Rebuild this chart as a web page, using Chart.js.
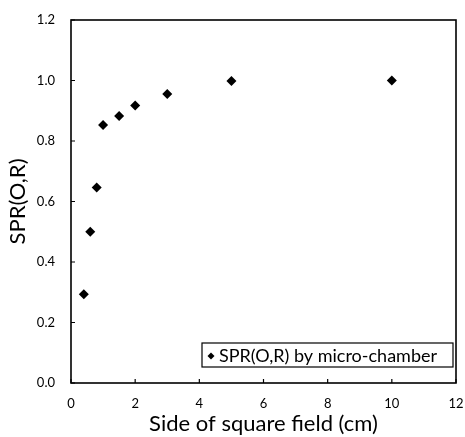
<!DOCTYPE html>
<html>
<head>
<meta charset="utf-8">
<script src="https://cdn.jsdelivr.net/npm/chart.js@4.4.0/dist/chart.umd.min.js"></script>
<style>
  html, body { margin: 0; padding: 0; background: #fff; }
  #wrap { width: 465px; height: 437px; }
</style>
</head>
<body>
<div id="wrap"><canvas id="myChart" width="465" height="437"></canvas></div>
<script>
// field side (cm) and SPR(0,R)
var fieldSide = [0.4, 0.6, 0.8, 1.0, 1.5, 2.0, 3.0, 5.0, 10.0];
var sprValues = [0.293, 0.50, 0.646, 0.853, 0.883, 0.917, 0.955, 0.998, 1.0];
var xTicks = [0, 2, 4, 6, 8, 10, 12];
var yTicks = [0.0, 0.2, 0.4, 0.6, 0.8, 1.0, 1.2];
var seriesLabel = 'SPR(O,R) by micro-chamber';

var points = [];
for (var i in fieldSide) {
  points.push({x: fieldSide[i], y: sprValues[i]});
}

// box round the plot, inward tick marks, legend inside the plot
var framePlugin = {
  id: 'frame',
  afterDraw: function(chart) {
    var ctx = chart.ctx;
    var a = chart.chartArea;
    var xs = chart.scales.x, ys = chart.scales.y;
    ctx.save();
    ctx.strokeStyle = '#000';
    ctx.lineWidth = 1.6;
    ctx.strokeRect(a.left, a.top, a.right - a.left, a.bottom - a.top);

    ctx.lineWidth = 1.2;
    ctx.beginPath();
    for (var j in yTicks) {
      var py = ys.getPixelForValue(yTicks[j]);
      ctx.moveTo(a.left, py);
      ctx.lineTo(a.left + 4, py);
    }
    for (var k in xTicks) {
      var px = xs.getPixelForValue(xTicks[k]);
      ctx.moveTo(px, a.bottom);
      ctx.lineTo(px, a.bottom - 4);
    }
    ctx.stroke();

    // legend box
    var bw = 251, bh = 24;
    var bx = a.right - 3 - bw, by = a.bottom - 16 - bh;
    ctx.fillStyle = '#fff';
    ctx.fillRect(bx, by, bw, bh);
    ctx.lineWidth = 1.2;
    ctx.strokeRect(bx, by, bw, bh);
    ctx.fillStyle = '#000';
    ctx.beginPath();
    var cx = bx + 9, cy = by + bh / 2 + 1;
    ctx.moveTo(cx, cy - 3.5);
    ctx.lineTo(cx + 3.5, cy);
    ctx.lineTo(cx, cy + 3.5);
    ctx.lineTo(cx - 3.5, cy);
    ctx.closePath();
    ctx.fill();
    ctx.font = '18px Lato';
    ctx.textBaseline = 'middle';
    ctx.textAlign = 'left';
    ctx.fillText(seriesLabel, bx + 17, cy);
    ctx.restore();
  }
};

var ctx = document.getElementById('myChart');

var scatter = new Chart(ctx, {
  type: 'scatter',
  data: {
    datasets: [
      {
        label: seriesLabel,
        data: points,
        pointStyle: 'rectRot',
        pointRadius: 5,
        backgroundColor: '#000',
        borderColor: '#000',
        borderWidth: 0
      }
    ]
  },
  options: {
    responsive: false,
    animation: false,
    devicePixelRatio: 1,
    layout: {
      padding: {top: 20, right: 9, bottom: 0, left: 0}
    },
    plugins: {
      legend: {display: false},
      tooltip: {enabled: false}
    },
    scales: {
      x: {
        type: 'linear',
        min: 0,
        max: 12,
        afterFit: function(scale) {
          scale.height = 54;
          scale.paddingLeft = 0;
          scale.paddingRight = 0;
        },
        afterBuildTicks: function(scale) {
          scale.ticks = xTicks.map(function(v) { return {value: v}; });
        },
        grid: {display: false, drawTicks: false},
        border: {display: false},
        ticks: {
          color: '#000',
          padding: 13,
          maxRotation: 0,
          font: {family: 'Lato', size: 13}
        },
        title: {
          display: true,
          text: 'Side of square field (cm)',
          color: '#000',
          font: {family: 'Lato', size: 22},
          padding: {top: 0, bottom: 0}
        }
      },
      y: {
        type: 'linear',
        min: 0,
        max: 1.2,
        afterFit: function(scale) {
          scale.width = 71;
          scale.paddingTop = 0;
          scale.paddingBottom = 0;
        },
        afterBuildTicks: function(scale) {
          scale.ticks = yTicks.map(function(v) { return {value: v}; });
        },
        grid: {display: false, drawTicks: false},
        border: {display: false},
        ticks: {
          color: '#000',
          padding: 16,
          font: {family: 'Lato', size: 13},
          callback: function(v) { return v.toFixed(1); }
        },
        title: {
          display: true,
          text: 'SPR(O,R)',
          color: '#000',
          font: {family: 'Lato', size: 22},
          padding: {top: 5, bottom: 0}
        }
      }
    }
  },
  plugins: [framePlugin]
});
</script>
</body>
</html>
